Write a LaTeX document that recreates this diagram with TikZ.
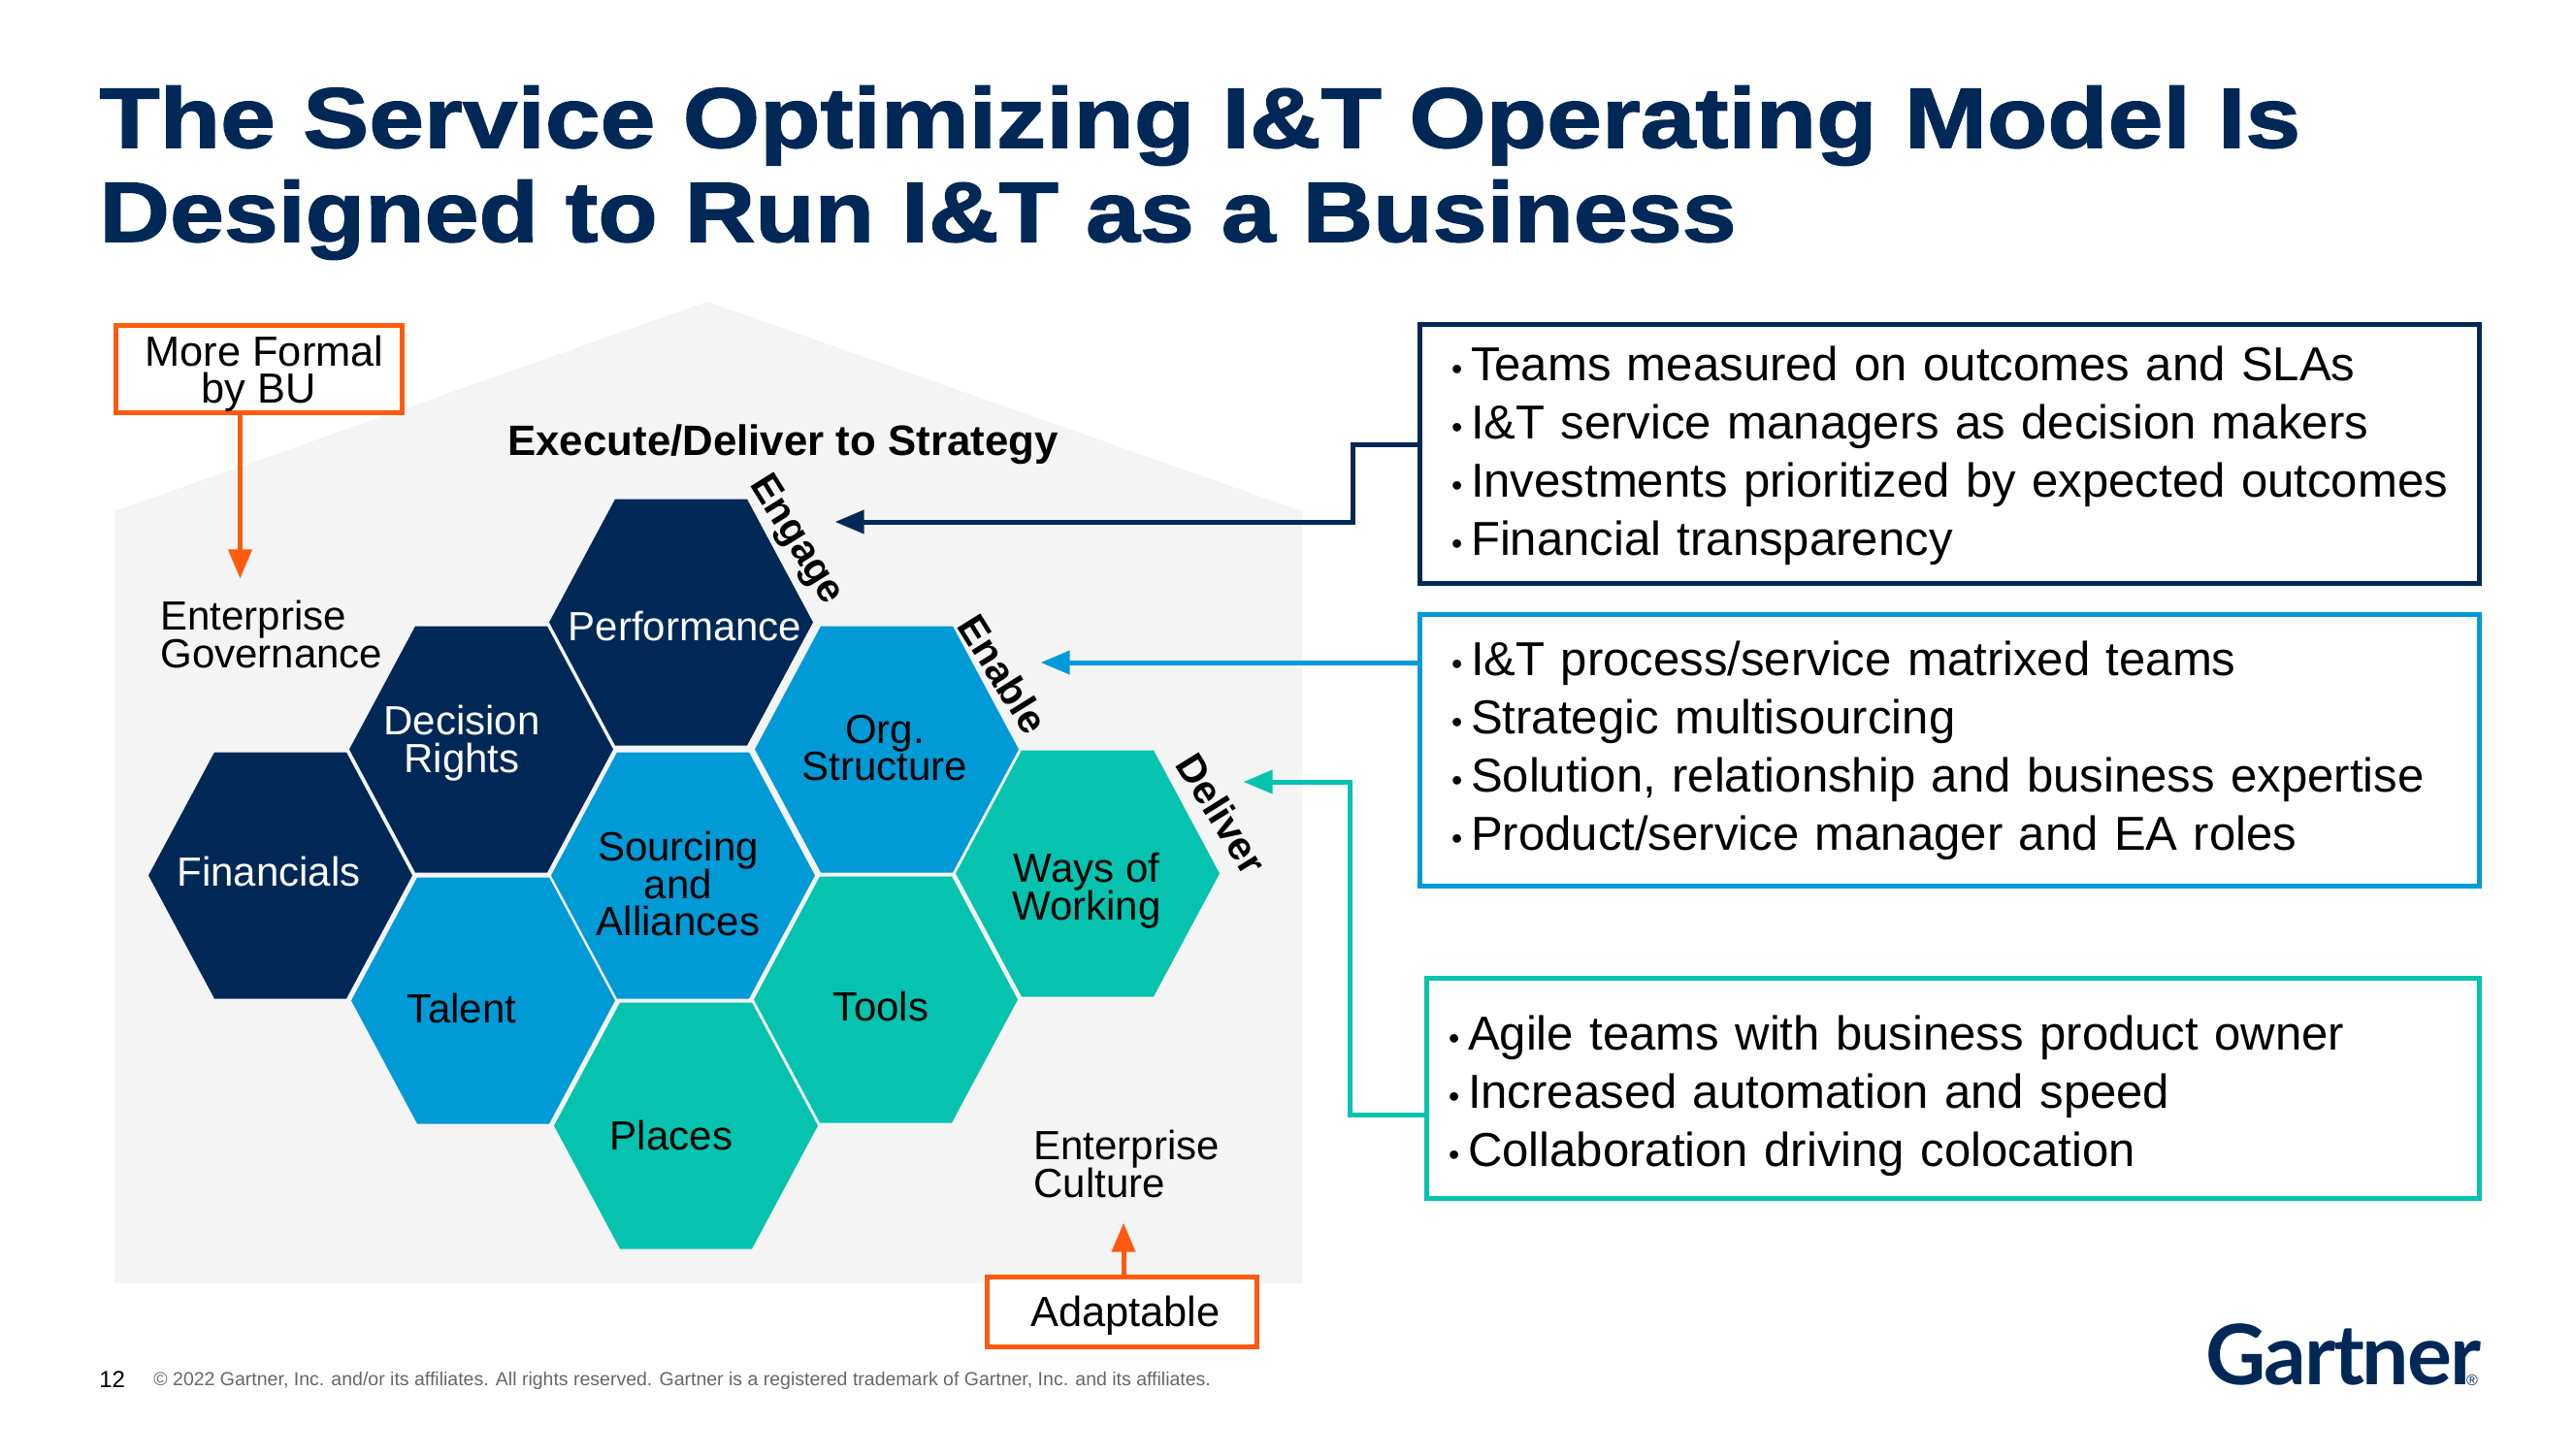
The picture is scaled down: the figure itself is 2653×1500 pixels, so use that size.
\documentclass[tikz,border=0pt]{standalone}
\usepackage{fontspec}
\setmainfont{Liberation Sans}
\newfontfamily\logofont[LetterSpace=-2.5]{Lato}
\newfontfamily\titlefont[FakeStretch=1.16,FakeBold=1.6]{Liberation Sans Bold}
\usetikzlibrary{arrows}
\definecolor{navy}{HTML}{002856}
\definecolor{midblue}{HTML}{009AD7}
\definecolor{teal}{HTML}{05C3AE}
\definecolor{flame}{HTML}{FF5A10}
\definecolor{housegray}{HTML}{F4F4F4}
\AtBeginDocument{\lineskiplimit=-20pt}
\newcommand{\bul}[1]{\mbox{\makebox[10pt][l]{\raisebox{0.5pt}{\fontsize{16}{16}\selectfont\textbullet}}#1}}
\tikzset{
  hexlabel/.style={align=center,font=\fontsize{21}{19.2}\selectfont,inner sep=0pt},
  sidelabel/.style={anchor=west,align=left,font=\fontsize{21}{19.2}\selectfont,inner sep=0pt},
  listbox/.style={draw,line width=2.5pt,fill=white,anchor=center,inner xsep=16.5pt,inner ysep=0pt,outer sep=0pt,align=left,font=\fontsize{24.55}{30}\selectfont},
  flamebox/.style={draw=flame,line width=2.5pt,fill=white,align=center,inner sep=0pt,outer sep=0pt,font=\fontsize{21.7}{18.8}\selectfont},
  turned/.style={font=\fontsize{20.5}{20.5}\selectfont\bfseries,rotate=-58,inner sep=0pt}
}
\begin{document}
\begin{tikzpicture}[line cap=butt,line join=miter,>=triangle 45,x=0.5pt,y=-0.5pt]
\useasboundingbox (0,0) rectangle (2653,1500);
\node [anchor=west,align=left,text=navy,inner sep=0pt,font=\fontsize{44}{48.5}\titlefont] (title) at (102,178) {The Service Optimizing I\&T Operating Model Is\\\scalebox{0.985}[1]{Designed to Run I\&T as a Business}};
\fill [housegray] (118,527) -- (729,311) -- (1342,527) -- (1342,1323) -- (118,1323) -- cycle;
\foreach \cx/\cy/\hexcol in {702/641.5/navy,496/772.5/navy,289/902.5/navy,498/1031.5/midblue,704/902.5/midblue,914/772.5/midblue,913/1030.5/teal,1121/900.5/teal,707/1160.5/teal}
  \fill [\hexcol] (\cx-136,\cy) -- (\cx-68,\cy-127) -- (\cx+68,\cy-127) -- (\cx+136,\cy) -- (\cx+68,\cy+127) -- (\cx-68,\cy+127) -- cycle;
\node [hexlabel,text=white] (performance) at (706,645) {Performance};
\node [hexlabel,text=white] (decision) at (476,766) {Decision\\Rights};
\node [hexlabel,text=white] (financials) at (277,898) {Financials};
\node [hexlabel] (talent) at (476,1039) {Talent};
\node [hexlabel] (sourcing) at (699,911) {Sourcing\\and\\Alliances};
\node [hexlabel] (org) at (912,771) {Org.\\Structure};
\node [hexlabel] (tools) at (908,1037) {Tools};
\node [hexlabel] (ways) at (1120,918) {Ways of\\Working};
\node [hexlabel] (places) at (692,1170) {Places};
\node [sidelabel] (governance) at (165,654) {Enterprise\\Governance};
\node [sidelabel] (culture) at (1065,1200) {Enterprise\\Culture};
\node [inner sep=0pt,font=\fontsize{21.9}{22}\selectfont\bfseries] (strategy) at (807,458) {Execute/Deliver to Strategy};
\node [turned] (engage) at (820,557) {Engage};
\node [turned] (enable) at (1034,695) {Enable};
\node [turned] (deliver) at (1259,839) {Deliver};
\node [flamebox,minimum width=147.5pt,minimum height=45pt] (formal) at (266.5,380) {\rule{0pt}{21pt}\hspace*{6pt}More Formal\\by BU};
\node [flamebox,minimum width=139pt,minimum height=36pt] (adaptable) at (1156,1352) {\rule{0pt}{20pt}\hspace*{4pt}Adaptable};
\coordinate (govTip) at (247.5,596);
\coordinate (cultureTip) at (1158,1261);
\draw [->,flame,line width=2.5pt] (formal.south -| govTip) -- (govTip);
\draw [->,flame,line width=2.5pt] (adaptable.north -| cultureTip) -- (cultureTip);
\node [listbox,draw=navy,text width=513pt,minimum height=133.5pt] (engagebox) at (2009,468) {\rule{0pt}{20pt}\bul{Teams measured on outcomes and SLAs}\\\bul{I\&T service managers as decision makers}\\\bul{Investments prioritized by expected outcomes}\\\bul{Financial transparency}};
\node [listbox,draw=midblue,text width=513pt,minimum height=140.3pt] (enablebox) at (2009,773.6) {\bul{I\&T process/service matrixed teams}\\\bul{Strategic multisourcing}\\\bul{Solution, relationship and business expertise}\\\bul{Product/service manager and EA roles}};
\node [listbox,draw=teal,text width=519.5pt,inner xsep=11.5pt,minimum height=113.5pt] (deliverbox) at (2012.5,1121.5) {\rule{0pt}{26pt}\bul{Agile teams with business product owner}\\\bul{Increased automation and speed}\\\bul{Collaboration driving colocation}};
\coordinate (engageTip) at (861,538);
\coordinate (enableTip) at (1073,683);
\coordinate (deliverTip) at (1282,806);
\draw [<-,navy,line width=2.5pt] (engageTip) -- (1394,538) |- (engagebox.179);
\draw [<-,midblue,line width=2.5pt] (enableTip) -- (enableTip -| enablebox.west);
\draw [<-,teal,line width=2.5pt] (deliverTip) -- (1391,806) |- (deliverbox.183);
\node [anchor=west,inner sep=0pt,font=\fontsize{12}{12}\selectfont] (pagenum) at (102,1422) {12};
\node [anchor=west,inner sep=0pt,text=black!60,font=\fontsize{9.75}{12}\selectfont] (legal) at (158,1423) {\textcopyright{} 2022 Gartner, Inc. and/or its affiliates. All rights reserved. Gartner is a registered trademark of Gartner, Inc. and its affiliates.};
\node [anchor=base west,inner sep=0pt,text=navy,font=\fontsize{43}{43}\logofont\bfseries] (logo) at (2273,1427) {Gartner};
\node [inner sep=0pt,text=navy,font=\fontsize{8}{8}\selectfont] (logomark) at (2548,1423) {\textregistered};
\end{tikzpicture}
\end{document}
